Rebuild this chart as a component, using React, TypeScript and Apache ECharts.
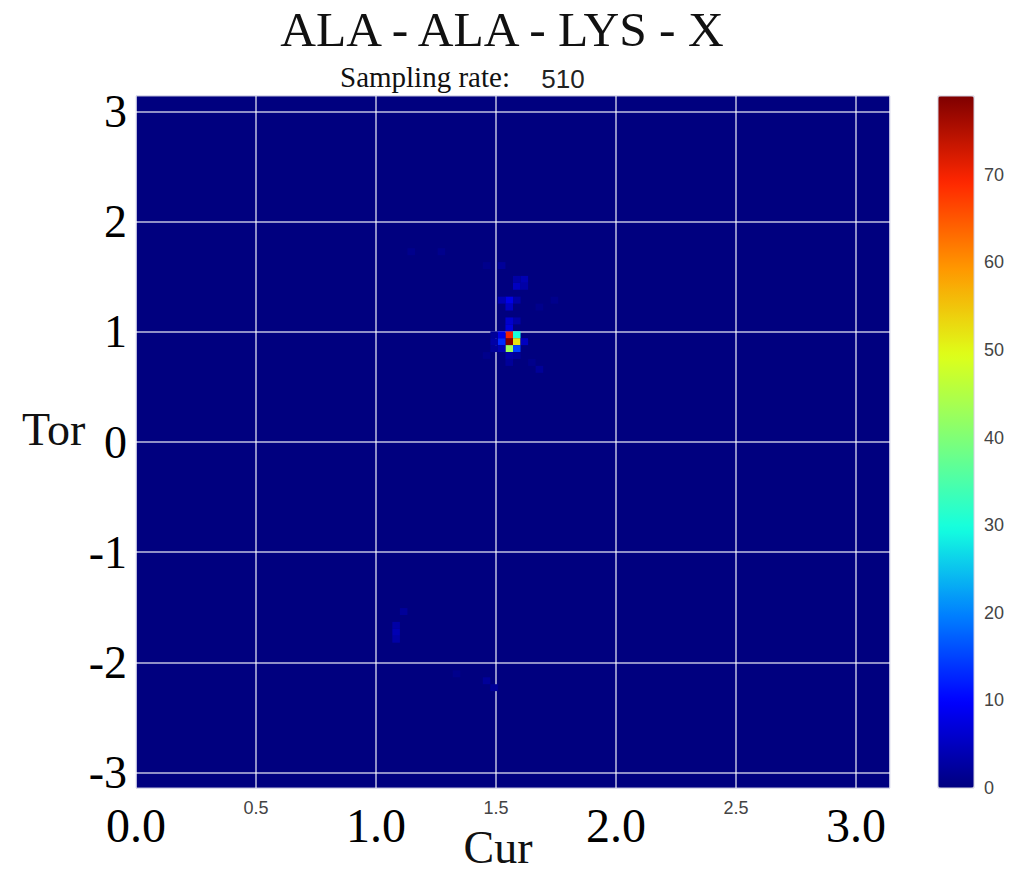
import React, { useEffect, useRef } from "react";
import * as echarts from "echarts";

// Histogram bins: 100 x 100 over Cur [0, π] and Tor [-π, π]
const BINS = 100;
const CUR_MIN = 0;
const CUR_MAX = Math.PI;
const TOR_MIN = -Math.PI;
const TOR_MAX = Math.PI;

// Non-empty cells (bin indices and counts)
const cellCurBin = [49, 49, 50, 50, 49, 50, 48, 48, 49, 49, 50, 51, 48, 47, 47, 47, 46, 49, 50, 49, 52, 53, 49, 49, 48, 50, 53, 55, 50, 51, 50, 51, 46, 48, 36, 40, 34, 34, 34, 35, 42, 46, 47];
const cellTorBin = [64, 65, 65, 64, 63, 63, 64, 65, 66, 67, 67, 64, 63, 64, 65, 63, 62, 62, 62, 61, 61, 60, 69, 70, 70, 70, 69, 70, 72, 73, 73, 72, 75, 75, 77, 77, 21, 22, 23, 25, 16, 15, 14];
const cellCount = [79, 70, 30, 52, 43, 15, 13, 8, 7, 6, 3, 5, 4, 3, 2, 2, 1, 3, 2, 2, 1, 2, 5, 8, 4, 3, 1, 1, 5, 4, 3, 3, 1, 2, 1, 1, 3, 4, 3, 2, 1, 2, 2];

const torTicks = [-3, -2, -1, 0, 1, 2, 3];
const countMax = 79;
const jetColors = ["#00007f", "#0000ff", "#0080ff", "#14ffdf", "#7bff7b", "#deff19", "#ff9800", "#ff2700", "#7f0000"];

const titleText = "ALA - ALA - LYS - X";
const samplingLabel = "Sampling rate:";
const samplingValue = "510";

const SERIF = "'Liberation Serif', 'DejaVu Serif', serif";
const SANS = "'Liberation Sans', Arial, sans-serif";

export default function App() {
  const ref = useRef<HTMLDivElement>(null);

  useEffect(() => {
    document.body.style.margin = "0";
    if (!ref.current) return;
    const chart = echarts.init(ref.current, null, { renderer: "svg" });

    const curStep = (CUR_MAX - CUR_MIN) / BINS;
    const torStep = (TOR_MAX - TOR_MIN) / BINS;
    const data = cellCount.map((c, k) => [
      CUR_MIN + cellCurBin[k] * curStep,
      TOR_MIN + cellTorBin[k] * torStep,
      c,
    ]);

    const option: any = {
      animation: false,
      backgroundColor: "#ffffff",
      grid: [
        {
          left: 136,
          top: 96,
          width: 754,
          height: 692,
          show: true,
          backgroundColor: "#00007f",
          borderColor: "#b8b8d8",
          borderWidth: 1,
        },
        { left: 938, top: 96, width: 36, height: 692, show: true, borderColor: "#d0d0e0", borderWidth: 1, z: 10 },
      ],
      xAxis: [
        {
          type: "value",
          gridIndex: 0,
          min: CUR_MIN,
          max: CUR_MAX,
          interval: 0.5,
          axisLine: { show: false },
          axisTick: { show: false },
          splitLine: { show: true, lineStyle: { color: "rgba(255,255,255,0.75)", width: 1.5 } },
          axisLabel: {
            showMaxLabel: false,
            margin: 10,
            formatter: (v: number) =>
              Math.abs(v - Math.round(v)) < 1e-9 ? `{big|${v.toFixed(1)}}` : `{small|${v}}`,
            rich: {
              big: { fontFamily: SERIF, fontSize: 48, lineHeight: 48, color: "#000", padding: [6, 0, 0, 0] },
              small: { fontFamily: SANS, fontSize: 18, lineHeight: 20, color: "#444" },
            },
          },
        },
        { type: "value", gridIndex: 1, show: false, min: 0, max: 1 },
      ],
      yAxis: [
        {
          type: "value",
          gridIndex: 0,
          min: TOR_MIN,
          max: TOR_MAX,
          axisLine: { show: false },
          axisTick: { show: false, customValues: torTicks },
          splitLine: { show: true, lineStyle: { color: "rgba(255,255,255,0.75)", width: 1.5 } },
          axisLabel: {
            customValues: torTicks,
            margin: 9,
            fontFamily: SERIF,
            fontSize: 46,
            color: "#000",
            formatter: (v: number) => String(v),
          },
        },
        {
          type: "value",
          gridIndex: 1,
          position: "right",
          min: 0,
          max: countMax,
          interval: 10,
          axisLine: { show: false },
          axisTick: { show: false },
          splitLine: { show: false },
          axisLabel: { showMaxLabel: false, margin: 10, fontFamily: SANS, fontSize: 18, color: "#444" },
        },
      ],
      visualMap: {
        type: "continuous",
        seriesIndex: 0,
        dimension: 2,
        min: 0,
        max: countMax,
        show: true,
        calculable: false,
        orient: "vertical",
        left: 938,
        top: 96,
        itemWidth: 36,
        itemHeight: 692,
        padding: 0,
        inRange: { color: jetColors },
      },
      series: [
        {
          type: "custom",
          xAxisIndex: 0,
          yAxisIndex: 0,
          data,
          renderItem: (params: any, api: any) => {
            const x0 = api.value(0);
            const y0 = api.value(1);
            const p0 = api.coord([x0, y0 + torStep]);
            const p1 = api.coord([x0 + curStep, y0]);
            return {
              type: "rect",
              shape: { x: p0[0], y: p0[1], width: p1[0] - p0[0], height: p1[1] - p0[1] },
              style: { fill: api.visual("color") },
            };
          },
        },
        { type: "scatter", xAxisIndex: 1, yAxisIndex: 1, data: [], silent: true },
      ],
      graphic: [
        {
          type: "text",
          x: 502,
          y: 29,
          style: { text: titleText, font: `49.5px ${SERIF}`, fill: "#111", textAlign: "center", textVerticalAlign: "middle" },
        },
        {
          type: "text",
          x: 340,
          y: 77,
          style: { text: samplingLabel, font: `29px ${SERIF}`, fill: "#111", textAlign: "left", textVerticalAlign: "middle" },
        },
        {
          type: "text",
          x: 563,
          y: 79,
          style: { text: samplingValue, font: `26px ${SANS}`, fill: "#222", textAlign: "center", textVerticalAlign: "middle" },
        },
        {
          type: "text",
          x: 22,
          y: 429,
          style: { text: "Tor", font: `46px ${SERIF}`, fill: "#111", textAlign: "left", textVerticalAlign: "middle" },
        },
        {
          type: "text",
          x: 498,
          y: 847,
          style: { text: "Cur", font: `46px ${SERIF}`, fill: "#111", textAlign: "center", textVerticalAlign: "middle" },
        },
      ],
    };

    chart.setOption(option);
    return () => chart.dispose();
  }, []);

  return <div ref={ref} style={{ width: 1025, height: 872 }} />;
}
